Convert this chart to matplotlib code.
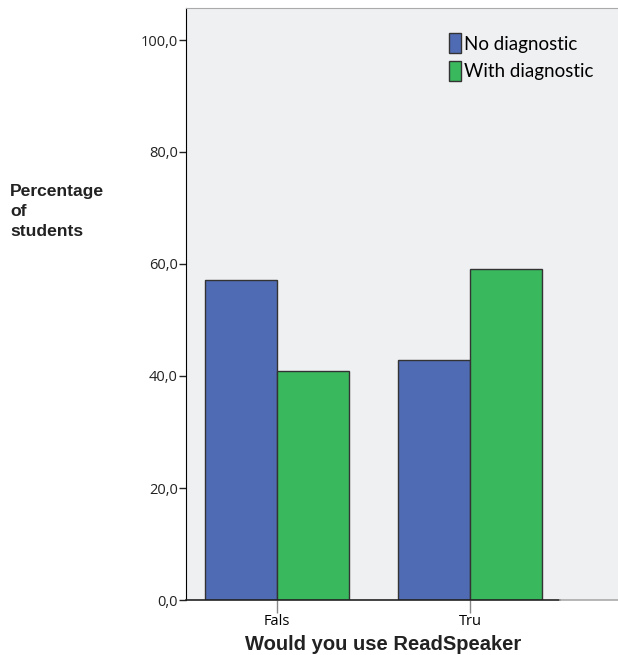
import matplotlib.pyplot as plt
from matplotlib.ticker import FuncFormatter
from matplotlib.patches import Patch

categories = ['Fals', 'Tru']
no_diag = [57.2, 42.8]
with_diag = [40.9, 59.1]
series_names = ['No diagnostic', 'With diagnostic']
y_ticks = [0, 20, 40, 60, 80, 100]

blue = '#4f6bb4'
green = '#39b85e'
bg = '#eff0f2'

fig = plt.figure(figsize=(6.18, 6.55), dpi=100)
ax = fig.add_axes([186 / 618, 1 - 600 / 655, 1 - 186 / 618, 592 / 655])
ax.set_facecolor(bg)

w = 0.373
x = list(range(len(categories)))
ax.bar([i - w / 2 for i in x], no_diag, w, color=blue, edgecolor='#333333', linewidth=1)
ax.bar([i + w / 2 for i in x], with_diag, w, color=green, edgecolor='#333333', linewidth=1)

ax.set_xlim(-0.47, 1.767)
ax.set_ylim(0, 100 + 32 / 5.6)

# axes styling
ax.spines['right'].set_visible(False)
ax.spines['top'].set_color('#aaaaaa')
ax.spines['left'].set_color('black')
ax.spines['bottom'].set_visible(False)
ax.plot([-0.47, 1.466], [0, 0], color='#222222', lw=1.2, clip_on=False, zorder=5)
ax.plot([1.466, 1.767], [0, 0], color='#aaaaaa', lw=1.2, clip_on=False, zorder=5)

ax.set_yticks(y_ticks)
ax.yaxis.set_major_formatter(FuncFormatter(lambda v, p: f'{v:.1f}'.replace('.', ',')))
ax.tick_params(axis='y', length=5, width=1, labelsize=10.5, pad=1, colors='#222222')
ax.set_xticks(x)
ax.set_xticklabels(categories)
ax.tick_params(axis='x', length=9, width=1, color='#888888', labelsize=10.5, pad=1)
for lab in ax.get_xticklabels() + ax.get_yticklabels():
    lab.set_fontfamily('Open Sans')

fig.text(383 / 618, 1 - 645 / 655, 'Would you use ReadSpeaker', fontsize=14.5,
         fontweight='bold', family='Liberation Sans', color='#222222',
         ha='center', va='center')

fig.text(10 / 618, 1 - 184 / 655, 'Percentage\nof\nstudents', fontsize=12.6,
         fontweight='bold', family='Liberation Sans', color='#222222',
         ha='left', va='top', linespacing=1.4)

handles = [Patch(facecolor=blue, edgecolor='#333333'),
           Patch(facecolor=green, edgecolor='#333333')]
leg = ax.legend(handles, series_names, loc='upper left', bbox_to_anchor=(0.609, 0.957),
                frameon=False, borderpad=0, borderaxespad=0,
                handlelength=0.62, handleheight=1.25, handletextpad=0.2,
                labelspacing=0.42, prop={'family': 'Lato', 'size': 13.5})

fig.savefig('out.png', dpi=100)
